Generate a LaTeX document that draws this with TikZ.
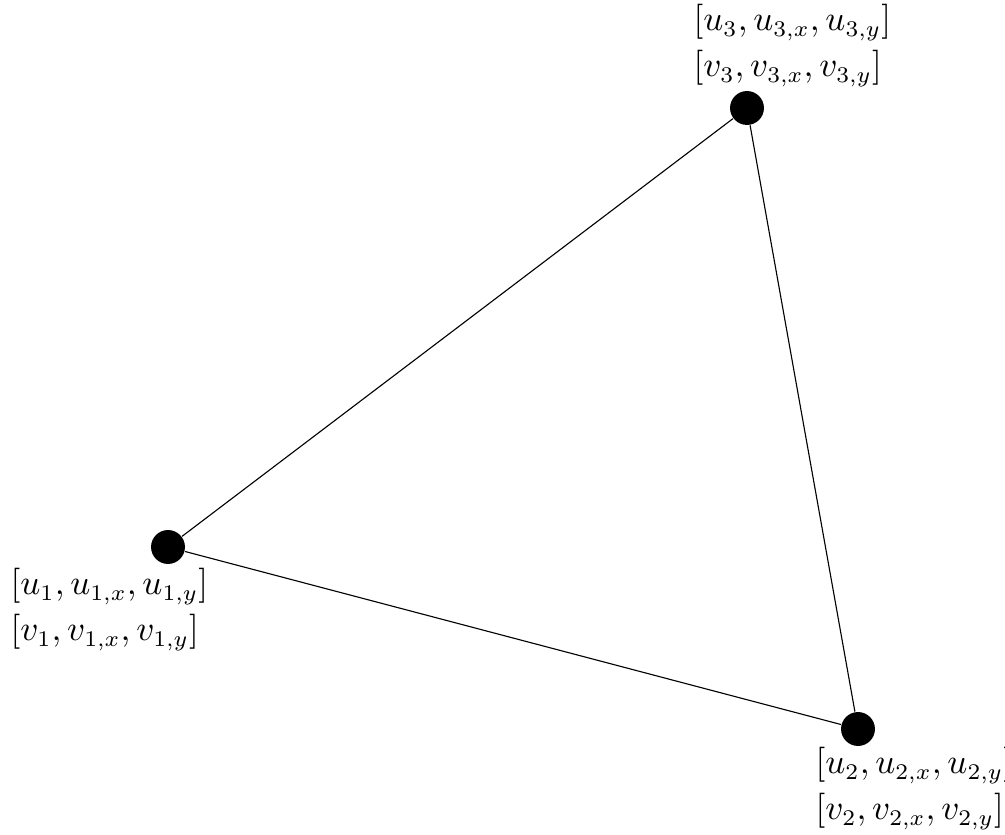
\documentclass[tikz,border=0pt]{standalone}
\begin{document}
\begin{tikzpicture}[x=0.3125pt,y=-0.3125pt,
  vert/.style={circle,fill=black,inner sep=0pt,minimum size=10.6pt},
  lab/.style={anchor=base west,inner sep=0pt,font=\fontsize{10.6pt}{13pt}\selectfont},
  edge/.style={draw=black,line width=0.35pt}]
\useasboundingbox (0,0) rectangle (1005,835);
\node[vert] (v1) at (168,547) {};
\node[vert] (v2) at (858,729) {};
\node[vert] (v3) at (747,108) {};
\draw[edge] (v1) -- (v3);
\draw[edge] (v3) -- (v2);
\draw[edge] (v2) -- (v1);
\node[lab] (l3a) at (693,31) {$[u_3{,}\,u_{3,x}{,}\,u_{3,y}]$};
\node[lab] (l3b) at (693,77) {$[v_3{,}\,v_{3,x}{,}\,v_{3,y}]$};
\node[lab] (l1a) at (10,595) {$[u_1{,}\,u_{1,x}{,}\,u_{1,y}]$};
\node[lab] (l1b) at (10,641) {$[v_1{,}\,v_{1,x}{,}\,v_{1,y}]$};
\node[lab] (l2a) at (815,774) {$[u_2{,}\,u_{2,x}{,}\,u_{2,y}]$};
\node[lab] (l2b) at (815,820) {$[v_2{,}\,v_{2,x}{,}\,v_{2,y}]$};
\end{tikzpicture}
\end{document}
